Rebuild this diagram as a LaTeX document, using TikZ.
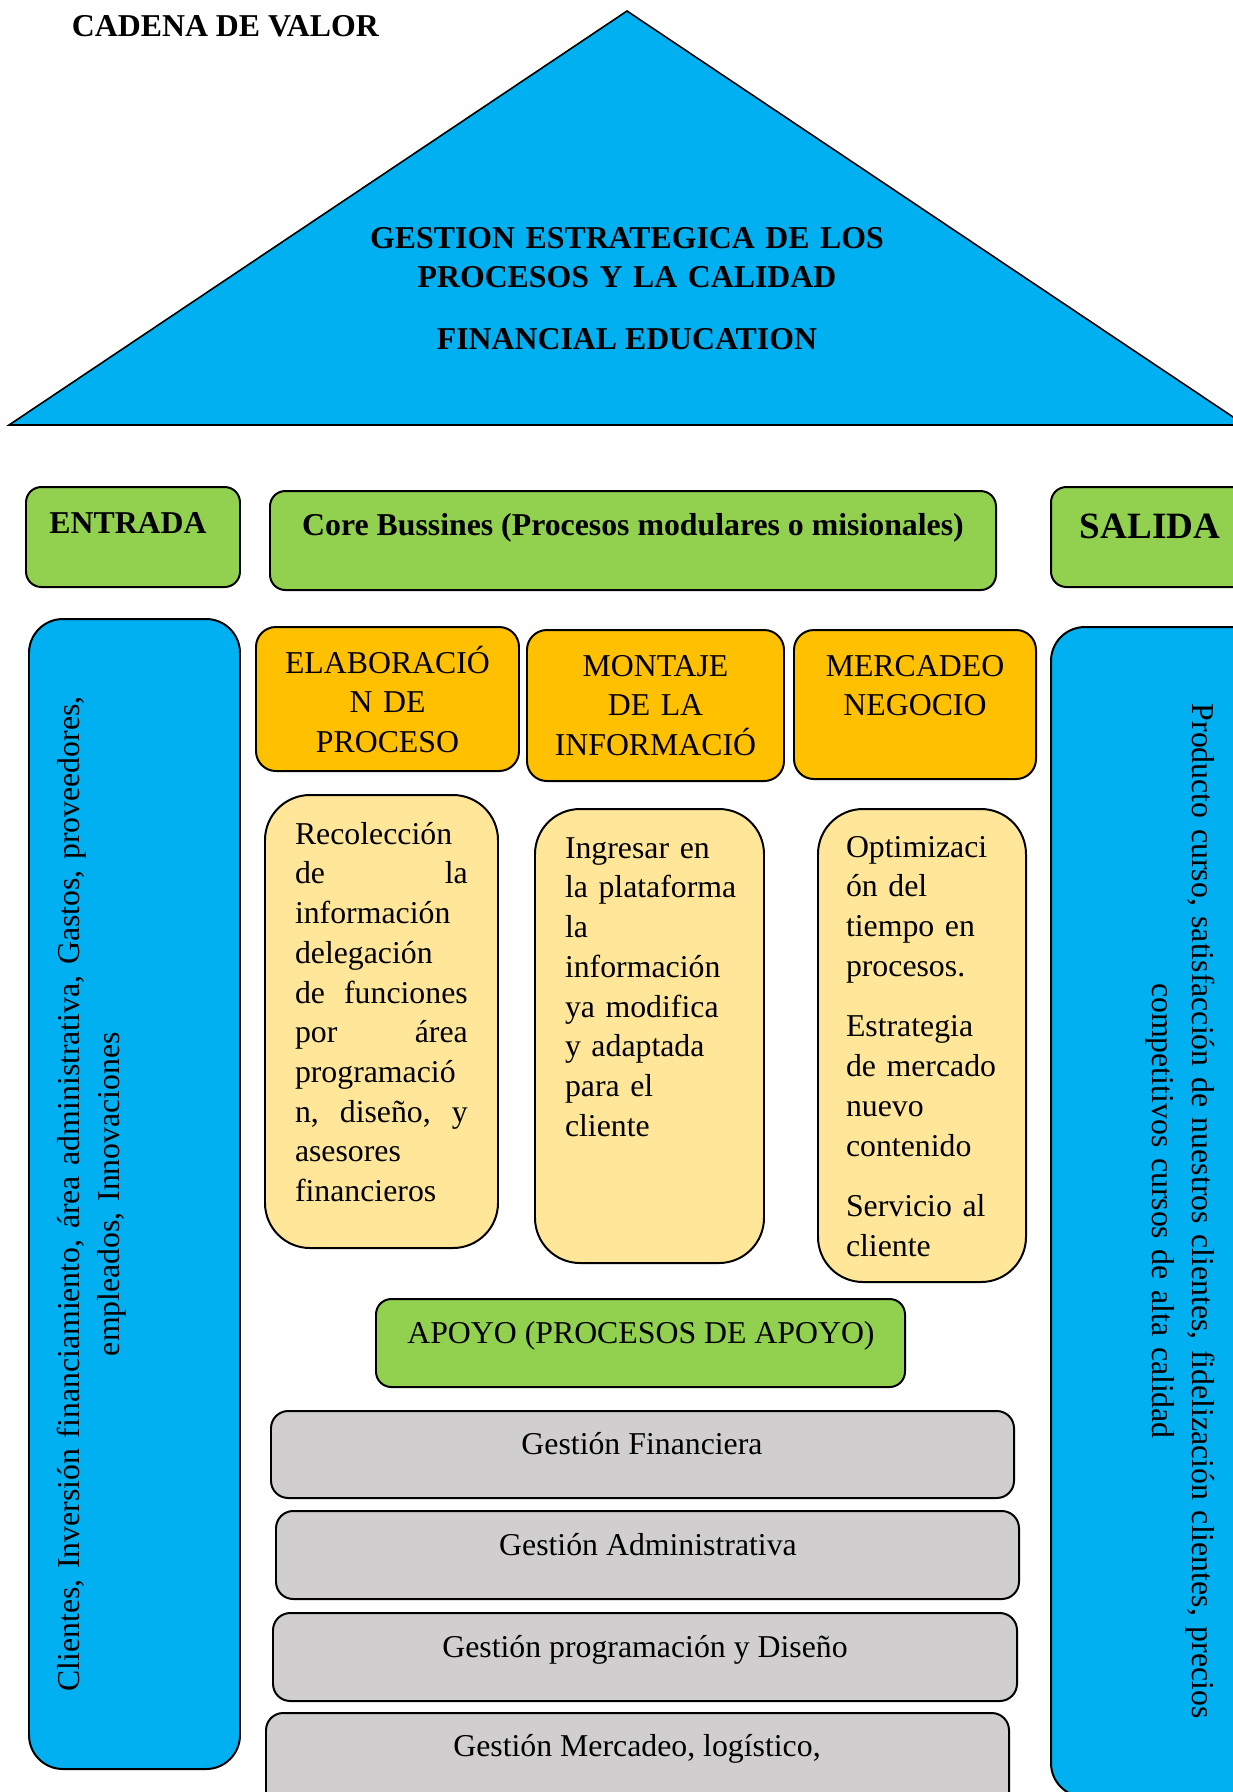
\documentclass[tikz,border=0pt]{standalone}
\usepackage{fontspec}
\setmainfont{Liberation Serif}
\definecolor{skyblue}{HTML}{00B0F0}
\definecolor{leafgreen}{HTML}{92D050}
\definecolor{amber}{HTML}{FFC000}
\definecolor{sand}{HTML}{FFE699}
\definecolor{stone}{HTML}{D0CECE}

% rounded panel from its corners, given in pixel units: style, name, x1, y1, x2, y2
\newcommand\panel[6]{%
  \pgfmathsetmacro\panelw{(#5-#3)*0.3774}%
  \pgfmathsetmacro\panelh{(#6-#4)*0.3774}%
  \node[#1, minimum width=\panelw pt, minimum height=\panelh pt] (#2)
    at ({(#3+#5)/2},{(#4+#6)/2}) {};}
% one justified line spread over the full text width (words split by \hfill)
\newcommand\jl[1]{\makebox[\linewidth][l]{#1}}

\begin{document}
\begin{tikzpicture}[x=0.3774pt, y=-0.3774pt,
  panelbase/.style={draw=black, line width=0.75pt, inner sep=0pt, outer sep=0pt, rectangle},
  greenbox/.style={panelbase, fill=leafgreen, rounded corners=5.8pt},
  bluebox/.style={panelbase, fill=skyblue, rounded corners=12.8pt},
  amberbox/.style={panelbase, fill=amber, rounded corners=7.5pt},
  sandbox/.style={panelbase, fill=sand, rounded corners=17pt},
  stonebox/.style={panelbase, fill=stone, rounded corners=6.5pt},
  txt/.style={inner sep=0pt, outer sep=0pt, font=\fontsize{12}{15}\selectfont},
  heading/.style={txt, font=\fontsize{12}{15}\selectfont\bfseries},
]
\useasboundingbox (0,0) rectangle (1233,1792);
\clip (0,0) rectangle (1233,1792);

% roof
\coordinate (apex) at (627,11);
\coordinate (baseL) at (9,425);
\coordinate (baseR) at (1245,425);
\draw[fill=skyblue, line width=0.6pt] (apex) -- (baseL) -- (baseR) -- cycle;

\node[heading, anchor=base west] (title) at (72,36) {CADENA DE VALOR};
\node[heading, anchor=base, text width=226pt, align=center] (roof) at (627,248)
  {GESTION ESTRATEGICA DE LOS\\PROCESOS Y LA CALIDAD};
\node[heading, anchor=base] (brand) at (627,349) {FINANCIAL EDUCATION};

% headers
\panel{greenbox}{entrada}{26}{487}{240}{587}
\panel{greenbox}{core}{270}{491}{996}{590}
\panel{greenbox}{salida}{1051}{487}{1266}{587}
\node[heading, anchor=base] (entradat) at (128,533) {ENTRADA};
\node[heading, anchor=base] (coret) at (633,535) {Core Bussines (Procesos modulares o misionales)};
\node[txt, font=\fontsize{14}{17}\selectfont\bfseries, anchor=base] (salidat) at (1150,538) {SALIDA};

% side columns
\panel{bluebox}{inputs}{29}{619}{240}{1769}
\panel{bluebox}{outputs}{1051}{627}{1266}{1797}
\node[txt, rotate=90, anchor=base, text width=415pt, align=center] (inputst) at (80,1194)
  {Clientes, Inversión financiamiento, área administrativa, Gastos, proveedores,\\empleados, Innovaciones};
\node[txt, rotate=-90, anchor=base, text width=415pt, align=center] (outputst) at (1192,1211)
  {Producto curso, satisfacción de nuestros clientes, fidelización clientes, precios\\competitivos cursos de alta calidad};

% core processes
\panel{amberbox}{elab}{256}{627}{519}{771}
\panel{amberbox}{montaje}{527}{630}{784}{781}
\panel{amberbox}{mercadeo}{794}{630}{1036}{779}
\node[txt, anchor=base, text width=90pt, align=center] (elabt) at (387.5,673) {ELABORACIÓ\\N DE\\PROCESO};
\node[txt, anchor=base, text width=90pt, align=center] (montajet) at (655.5,676) {MONTAJE\\DE LA\\INFORMACIÓ};
\node[txt, anchor=base, text width=90pt, align=center] (mercadeot) at (915,676) {MERCADEO\\NEGOCIO};

\panel{sandbox}{tareas1}{265}{795}{498}{1248}
\panel{sandbox}{tareas2}{535}{809}{764}{1263}
\panel{sandbox}{tareas3}{818}{809}{1026}{1282}
\node[txt, anchor=base west, text width=65.2pt, align=left] (tareas1t) at (295,844)
  {Recolección\\\jl{de\hfill la}\\información\\delegación\\\jl{de\hfill funciones}\\\jl{por\hfill área}\\programació\\\jl{n,\hfill diseño,\hfill y}\\asesores\\financieros};
\node[txt, anchor=base west, text width=72pt, align=left] (tareas2t) at (565,858)
  {Ingresar en\\la plataforma\\la\\información\\ya modifica\\y adaptada\\para el\\cliente};
\node[txt, anchor=base west, text width=64pt, align=left] (tareas3t) at (846,857)
  {Optimizaci\\ón del\\tiempo en\\procesos.\\[7.9pt]Estrategia\\de mercado\\nuevo\\contenido\\[7.9pt]Servicio al\\cliente};

% support processes
\panel{greenbox}{apoyo}{376}{1299}{905}{1387}
\node[txt, anchor=base] (apoyot) at (641,1343) {APOYO (PROCESOS DE APOYO)};
\panel{stonebox}{gfin}{271}{1411}{1014}{1498}
\panel{stonebox}{gadm}{276}{1511}{1019}{1599}
\panel{stonebox}{gprog}{273}{1613}{1017}{1701}
\panel{stonebox}{gmerc}{266}{1713}{1009}{1810}
\node[txt, anchor=base] (gfint) at (642,1454) {Gestión Financiera};
\node[txt, anchor=base] (gadmt) at (648,1555) {Gestión Administrativa};
\node[txt, anchor=base] (gprogt) at (645,1657) {Gestión programación y Diseño};
\node[txt, anchor=base] (gmerct) at (637,1756) {Gestión Mercadeo, logístico,};
\end{tikzpicture}
\end{document}
